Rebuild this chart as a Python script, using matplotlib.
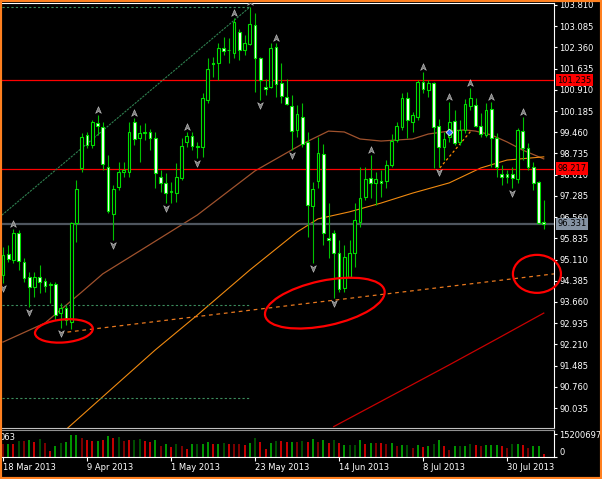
import numpy as np
import pandas as pd
import matplotlib
matplotlib.use('Agg')
import matplotlib.pyplot as plt
import matplotlib.transforms as mtransforms
from matplotlib.path import Path
from matplotlib.patches import Ellipse, Rectangle

# daily bars, weekdays from 18 Mar 2013
dates = pd.bdate_range('2013-03-18', periods=104)

opens = [94.582, 95.300, 95.094, 96.017, 95.026, 94.513, 94.171, 94.513, 94.377, 94.240,
         94.274, 93.283, 93.454, 92.975, 96.359, 98.239, 99.367, 99.025, 99.777, 99.640,
         98.273, 96.667, 97.590, 98.102, 98.102, 99.811, 99.264, 99.435, 99.469, 99.264,
         97.931, 97.726, 97.419, 97.384, 97.897, 99.127, 99.332, 98.956, 98.956, 100.563,
         101.828, 101.828, 102.340, 102.272, 102.169, 102.887, 102.272, 102.477, 103.127, 101.999,
         101.007, 101.007, 102.374, 101.144, 100.666, 100.358, 99.538, 99.982, 99.127, 96.940,
         97.795, 98.717, 95.846, 96.017, 95.334, 94.137, 94.513, 95.334, 96.393, 97.248,
         97.897, 97.726, 97.795, 97.795, 98.341, 99.196, 99.640, 100.631, 99.811, 99.982,
         101.178, 100.905, 101.144, 99.674, 98.956, 99.298, 99.845, 99.127, 99.538, 100.358,
         100.392, 99.674, 99.367, 100.255, 99.264, 98.034, 98.034, 98.034, 97.863, 99.503,
         98.922, 98.273, 97.760, 96.393]
highs = [95.539, 95.607, 96.154, 96.120, 95.163, 94.684, 94.684, 94.924, 94.479, 94.342,
         94.342, 93.624, 93.556, 96.393, 97.829, 99.435, 99.469, 99.880, 100.050, 99.811,
         98.683, 97.658, 98.444, 98.444, 99.811, 99.948, 99.709, 99.777, 99.572, 99.469,
         98.170, 98.068, 97.760, 98.410, 99.264, 99.469, 99.469, 99.127, 100.802, 101.999,
         102.033, 102.511, 102.716, 102.682, 103.366, 102.990, 102.785, 103.742, 103.537, 102.033,
         101.281, 102.511, 102.511, 101.828, 101.281, 100.734, 100.392, 100.460, 99.469, 97.760,
         99.298, 99.059, 97.043, 96.120, 95.778, 95.607, 95.778, 97.043, 98.273, 98.273,
         98.683, 98.102, 98.170, 98.512, 99.401, 99.811, 100.802, 100.836, 100.153, 101.247,
         101.520, 101.247, 101.178, 99.914, 99.469, 100.495, 100.221, 99.880, 100.597, 100.973,
         100.631, 100.119, 100.460, 100.495, 99.435, 98.341, 98.170, 98.273, 99.606, 99.982,
         99.093, 98.444, 97.795, 97.145]
lows = [94.308, 95.026, 94.992, 94.752, 94.342, 93.488, 93.830, 93.966, 94.001, 93.624,
        93.043, 92.770, 92.872, 92.736, 95.709, 98.102, 98.922, 98.922, 99.367, 98.170,
        96.701, 95.778, 97.487, 97.931, 97.931, 99.025, 98.444, 99.196, 98.854, 97.555,
        97.419, 97.043, 97.043, 97.077, 97.829, 98.956, 98.854, 98.580, 98.615, 100.460,
        101.349, 101.247, 102.101, 101.828, 101.999, 101.930, 102.101, 102.443, 100.836, 100.563,
        100.734, 100.973, 100.666, 100.460, 100.400, 98.854, 99.298, 98.956, 95.880, 94.992,
        97.555, 95.607, 95.163, 93.795, 94.001, 94.001, 94.479, 94.855, 96.222, 97.145,
        97.213, 96.974, 97.248, 97.555, 98.273, 99.127, 99.538, 99.264, 99.469, 99.880,
        100.802, 100.666, 98.239, 98.273, 98.512, 99.127, 99.025, 99.025, 99.435, 100.221,
        99.640, 99.298, 99.298, 98.273, 97.931, 97.658, 97.726, 97.555, 97.726, 98.512,
        98.170, 97.487, 96.325, 96.154]
closes = [95.265, 95.128, 96.017, 95.060, 94.479, 94.171, 94.513, 94.342, 94.206, 94.274,
          93.214, 93.454, 93.043, 96.359, 97.521, 99.298, 99.025, 99.811, 99.674, 98.375,
          96.769, 97.521, 98.102, 98.170, 99.469, 99.230, 99.435, 99.469, 99.264, 98.068,
          97.726, 97.384, 97.453, 97.931, 98.991, 99.332, 98.991, 98.991, 100.631, 101.622,
          101.794, 102.340, 102.238, 102.255, 103.229, 102.272, 102.511, 103.161, 101.999, 101.247,
          100.939, 102.340, 101.110, 100.700, 100.426, 99.503, 100.085, 99.059, 96.974, 97.521,
          98.751, 96.017, 95.778, 95.334, 94.103, 95.197, 95.334, 96.461, 97.213, 97.863,
          97.726, 97.863, 97.726, 98.341, 99.162, 99.674, 100.631, 99.880, 100.050, 101.178,
          100.939, 101.144, 99.640, 98.956, 99.230, 99.811, 99.093, 99.538, 100.426, 100.631,
          99.674, 99.401, 100.221, 99.264, 98.273, 97.931, 97.931, 97.897, 99.538, 98.922,
          98.273, 97.726, 96.359, 96.331]

# tick volume (millions) and histogram colour code per bar
volumes_m = [8.8, 8.4, 8.4, 10.6, 10.4, 11.0, 9.9, 12.1, 9.5, 3.7,
             7.3, 9.3, 9.7, 14.3, 14.8, 12.3, 11.0, 10.6, 10.6, 11.0,
             13.7, 12.6, 13.0, 10.8, 11.0, 11.5, 11.7, 10.4, 9.9, 11.5,
             7.3, 8.8, 6.6, 8.4, 7.1, 5.1, 8.4, 8.4, 8.4, 10.1,
             8.4, 8.8, 9.0, 8.4, 8.4, 8.4, 7.7, 9.3, 12.3, 9.7,
             5.1, 9.5, 10.4, 10.8, 9.9, 9.7, 9.7,
             10.4, 9.7, 11.7, 9.7, 11.0, 9.3, 11.0, 9.5, 7.7, 7.7,
             7.9, 11.0, 8.4, 9.5, 9.0, 9.0, 8.4, 9.0, 7.3, 8.2,
             8.2, 6.2, 7.9, 6.6, 7.3, 8.4, 11.0, 7.3, 4.4, 7.3,
             7.3, 7.3, 8.4, 7.7, 7.3, 7.7, 7.7, 7.7, 7.1, 6.2,
             8.4, 8.4, 7.7, 6.0, 7.3, 7.3, 2.2]
vol_codes = ("RgrGRgrGRrgGgggRrrgrgrGRrGGrrgRgrGRrgGggrgGrRRrgGrrgGrrgR"
             "GrgRgrGrgGGgrgRrRgRgGRgrgGgrRgGgGrRgggrRGgrRggr")

# fractal bars
up_fractals = [2, 18, 25, 35, 44, 47, 52, 70, 80, 85, 89, 93, 99]
down_fractals = [0, 5, 11, 21, 31, 37, 49, 55, 59, 63, 83, 97]

# moving averages (bar index, price)
ma_brown_x = [0, 8, 15, 19, 26, 37, 48, 57, 62, 65, 68, 72, 78, 81, 85, 88, 90, 93, 96, 99, 103]
ma_brown_y = [92.29, 92.94, 94.00, 94.62, 95.40, 96.63, 98.14, 99.06, 99.50, 99.47, 99.23,
              99.16, 99.23, 99.40, 99.50, 99.54, 99.50, 99.37, 99.13, 98.85, 98.55]
ma_orange_x = [12, 29, 37, 47, 56, 60, 66, 72, 78, 85, 91, 96, 103]
ma_orange_y = [89.30, 92.02, 93.21, 94.75, 96.05, 96.50, 96.74, 97.04, 97.38, 97.73, 98.24, 98.51, 98.62]
ma_red_x = [63, 75, 85, 94, 103]
ma_red_y = [89.40, 90.55, 91.51, 92.39, 93.28]

# drawn objects
h_lines = [101.235, 98.217]
last_price = 96.331
fib_levels = [103.742, 93.556, 90.377]
channel_x, channel_y = [-0.2, 47.05], [96.63, 103.742]
support_x, support_y = [10.86, 104.95], [92.60, 94.62]
price_ticks = [90.035 + 0.725 * k for k in range(20)]

fig = plt.figure(figsize=(6.02, 4.79), dpi=100, facecolor='black')
ax = fig.add_axes([2/602, 1 - 428/479, 552/602, 425/479], facecolor='black')
axv = fig.add_axes([2/602, 1 - 457/479, 552/602, 27/479], facecolor='black', sharex=ax)

lime = '#00e000'
idx = np.arange(len(opens))
for i in idx:
    o, h, l, c = opens[i], highs[i], lows[i], closes[i]
    ax.vlines(i, l, h, color='#00c000', lw=0.8, zorder=3)
    body = max(abs(c - o), 0.015)
    ax.bar(i, body, bottom=min(o, c), width=0.5,
           facecolor='black' if c >= o else 'white', edgecolor=lime, lw=0.8, zorder=4)

# moving averages
ax.plot(ma_brown_x, ma_brown_y, color='#a0522d', lw=0.9, zorder=2)
ax.plot(ma_orange_x, ma_orange_y, color='#f08a10', lw=0.8, zorder=2)
ax.plot(ma_red_x, ma_red_y, color='#c80000', lw=0.9, zorder=2)

# horizontal levels
for v in h_lines:
    ax.axhline(v, color='#ff0000', lw=0.9, zorder=2)
ax.axhline(last_price, color='#4e555e', lw=1.6, zorder=2)
for v in fib_levels:
    ax.plot([-0.2, 47.05], [v, v], color='#3c8c5c', lw=0.8, ls=(0, (2, 2)), zorder=2)
ax.plot(channel_x, channel_y, color='#2f8050', lw=0.8, ls=(0, (2, 1)), zorder=2)
ax.plot(support_x, support_y, color='#e8781e', lw=0.9, ls=(0, (3, 3)), zorder=2)
ax.plot([83.2, 89.3], [98.24, 99.54], color='#ff8c00', lw=0.9, ls=(0, (2, 2)), zorder=2)
ax.plot([85.0], [99.47], marker='D', ms=3.5, color='#3070ff', mec='white', mew=0.5, zorder=7)

# fractal arrows
up_arrow = Path([(0, 1), (0.75, -0.75), (0, -0.25), (-0.75, -0.75), (0, 1)],
                [Path.MOVETO, Path.LINETO, Path.LINETO, Path.LINETO, Path.CLOSEPOLY])
down_arrow = Path([(0, -1), (0.75, 0.75), (0, 0.25), (-0.75, 0.75), (0, -1)],
                  [Path.MOVETO, Path.LINETO, Path.LINETO, Path.LINETO, Path.CLOSEPOLY])
ax.scatter(up_fractals, [highs[i] + 0.17 for i in up_fractals], marker=up_arrow, s=30,
           c='#7c7c7c', edgecolors='#c4c4c4', linewidths=0.4, zorder=6)
ax.scatter(down_fractals, [lows[i] - 0.17 for i in down_fractals], marker=down_arrow, s=30,
           c='#7c7c7c', edgecolors='#c4c4c4', linewidths=0.4, zorder=6)

# hand drawn red circles (sizes in pixels)
for cx, cy, w, hgt, ang in [(11.6, 92.67, 58, 23, 5), (61.3, 93.62, 122, 45, 12), (101.7, 94.62, 48, 38, 0)]:
    tr = mtransforms.IdentityTransform() + mtransforms.ScaledTranslation(cx, cy, ax.transData)
    ax.add_patch(Ellipse((0, 0), w, hgt, angle=ang, transform=tr, fill=False,
                         ec='#ff0000', lw=1.6, zorder=8, clip_on=False))

ax.set_xlim(-0.19, 104.95)
ax.set_ylim(89.352, 103.878)
ax.yaxis.tick_right()
ax.set_yticks(price_ticks)
ax.set_yticklabels([f'{v:.3f}' for v in price_ticks])
ax.tick_params(axis='y', colors='white', length=2.5, width=0.8, labelsize=6, pad=1.5)
ax.tick_params(axis='x', bottom=False, labelbottom=False)
ax.spines['left'].set_visible(False)
ax.spines['top'].set_color('white')
ax.spines['right'].set_color('white')
ax.spines['bottom'].set_color('#c0c0c0')

# price labels of the lines
for v, fc in [(101.235, '#ff0000'), (98.217, '#ff0000'), (last_price, '#8593a3')]:
    ax.text(1.006, v, f'{v:.3f}', transform=ax.get_yaxis_transform(), ha='left', va='center',
            fontsize=6, color='black', zorder=10, clip_on=False,
            bbox=dict(boxstyle='square,pad=0.2', fc=fc, ec='none'))

# volume window
vcolor = {'g': '#00c000', 'G': '#006400', 'r': '#ff0000', 'R': '#a00000'}
axv.vlines(idx, 0, [v * 1e6 for v in volumes_m], colors=[vcolor[k] for k in vol_codes], lw=1.1)
axv.set_ylim(0, 17.9e6)
axv.yaxis.tick_right()
axv.set_yticks([0, 15200697])
axv.set_yticklabels(['0', '15200697'])
axv.get_yticklabels()[0].set_va('bottom')
axv.tick_params(axis='y', colors='white', length=2.5, width=0.8, labelsize=6, pad=1.5)
tick_pos = [0, 16, 32, 48, 64, 80, 96]
axv.set_xticks(tick_pos)
axv.set_xticklabels([f"{dates[i].day} {dates[i].strftime('%b %Y')}" for i in tick_pos])
for lab in axv.get_xticklabels():
    lab.set_ha('left')
axv.tick_params(axis='x', colors='white', length=3, width=0.8, labelsize=6, pad=1.5)
axv.spines['left'].set_visible(False)
axv.spines['top'].set_color('#909090')
axv.spines['right'].set_color('white')
axv.spines['bottom'].set_color('white')
fig.text(0.0, 1 - 438/479, '063', color='white', fontsize=6, va='center', ha='left')

fig.patches.append(Rectangle((0, 0), 1, 1, transform=fig.transFigure, fill=False,
                             ec='#ff8020', lw=3, zorder=20))

plt.savefig('out.png', dpi=100, facecolor='black')
